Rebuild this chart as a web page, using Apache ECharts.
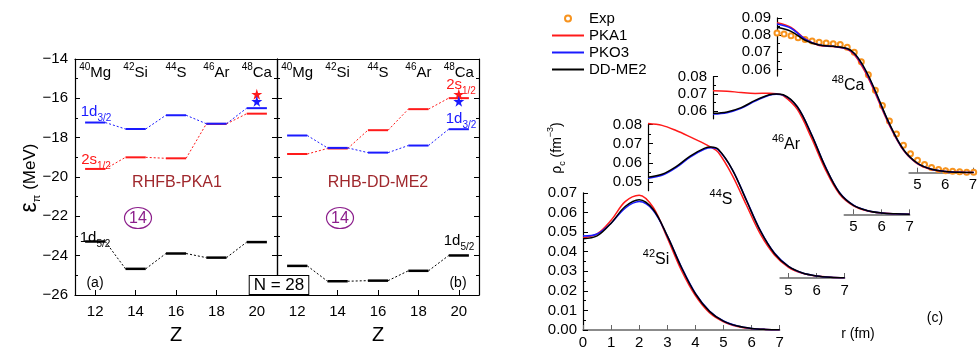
<!DOCTYPE html>
<html><head><meta charset="utf-8">
<script src="https://cdn.jsdelivr.net/npm/echarts@6/dist/echarts.min.js"></script>
<style>html,body{margin:0;padding:0;background:#fff}#c{width:980px;height:350px}</style>
</head><body><div id="c"></div>
<script>
// ---------------- data: panels (a) and (b) ----------------
const Z = [12, 14, 16, 18, 20];
const massNumbers = [40, 42, 44, 46, 48];
const elements = ['Mg', 'Si', 'S', 'Ar', 'Ca'];
const pka1_d32 = [-17.23, -17.56, -16.86, -17.29, -16.50];
const pka1_s12 = [-19.59, -19.00, -19.05, -17.30, -16.78];
const pka1_d52 = [-23.28, -24.67, -23.89, -24.10, -23.31];
const ddme2_d32 = [-17.89, -18.52, -18.76, -18.40, -17.57];
const ddme2_s12 = [-18.83, -18.55, -17.62, -16.55, -15.99];
const ddme2_d52 = [-24.52, -25.30, -25.27, -24.77, -23.99];
const expCa48_s12 = [20, -15.79];
const expCa48_d32 = [20, -16.15];

// ---------------- data: panel (c) charge densities ----------------
const r42Si = [0, 0.5, 1, 1.5, 2, 2.5, 3, 3.5, 4, 4.5, 5, 5.5, 6, 6.5, 7];
const si42_pka1 = [0.0470, 0.0490, 0.0560, 0.0655, 0.0688, 0.0625, 0.0470, 0.0305, 0.0175, 0.0088, 0.0042, 0.0018, 0.0007, 0.0003, 0.0001];
const si42_pko3 = [0.0480, 0.0490, 0.0545, 0.0622, 0.0655, 0.0610, 0.0480, 0.0322, 0.0187, 0.0097, 0.0046, 0.0020, 0.0008, 0.0003, 0.0001];
const si42_ddme2 = [0.0465, 0.0480, 0.0545, 0.0630, 0.0665, 0.0615, 0.0480, 0.0320, 0.0185, 0.0095, 0.0045, 0.0020, 0.0008, 0.0003, 0.0001];

const r44S = [0, 0.5, 1, 1.5, 2, 2.25, 2.5, 3, 3.5, 4, 4.5, 5, 5.5, 6, 6.5, 7];
const s44_pka1 = [0.0805, 0.0795, 0.0768, 0.0735, 0.0700, 0.0680, 0.0655, 0.0535, 0.0380, 0.0228, 0.0120, 0.0056, 0.0024, 0.0010, 0.0004, 0.0001];
const s44_pko3 = [0.0520, 0.0535, 0.0575, 0.0630, 0.0670, 0.0678, 0.0668, 0.0565, 0.0407, 0.0247, 0.0130, 0.0061, 0.0026, 0.0011, 0.0004, 0.0001];
const s44_ddme2 = [0.0525, 0.0540, 0.0580, 0.0635, 0.0675, 0.0682, 0.0670, 0.0565, 0.0405, 0.0245, 0.0128, 0.0060, 0.0026, 0.0011, 0.0004, 0.0001];

const r46Ar = [0, 0.5, 1, 1.5, 2, 2.25, 2.5, 3, 3.5, 4, 4.5, 5, 5.5, 6, 6.5, 7];
const ar46_pka1 = [0.0719, 0.0716, 0.0708, 0.0703, 0.0704, 0.0701, 0.0690, 0.0610, 0.0445, 0.0260, 0.0118, 0.0049, 0.0019, 0.0007, 0.0003, 0.0001];
const ar46_pko3 = [0.0583, 0.0591, 0.0616, 0.0658, 0.0692, 0.0698, 0.0693, 0.0625, 0.0467, 0.0277, 0.0127, 0.0053, 0.0021, 0.0008, 0.0003, 0.0001];
const ar46_ddme2 = [0.0587, 0.0595, 0.0620, 0.0662, 0.0695, 0.0700, 0.0695, 0.0625, 0.0465, 0.0275, 0.0125, 0.0052, 0.0021, 0.0008, 0.0003, 0.0001];

const r48Ca = [0, 0.5, 1, 1.5, 2, 2.5, 2.75, 3, 3.25, 3.5, 4, 4.5, 5, 5.5, 6, 6.5, 7];
const ca48_pka1 = [0.0872, 0.0845, 0.0778, 0.0740, 0.0733, 0.0718, 0.0685, 0.0625, 0.0550, 0.0460, 0.0275, 0.0130, 0.0052, 0.0019, 0.0007, 0.0002, 0.0001];
const ca48_pko3 = [0.0865, 0.0840, 0.0776, 0.0742, 0.0735, 0.0720, 0.0692, 0.0635, 0.0560, 0.0470, 0.0282, 0.0133, 0.0054, 0.0020, 0.0007, 0.0002, 0.0001];
const ca48_ddme2 = [0.0845, 0.0822, 0.0770, 0.0742, 0.0735, 0.0722, 0.0695, 0.0640, 0.0565, 0.0475, 0.0285, 0.0135, 0.0055, 0.0020, 0.0007, 0.0002, 0.0001];
const rExp = [0, 0.25, 0.5, 0.75, 1, 1.25, 1.5, 1.75, 2, 2.25, 2.5, 2.75, 3, 3.25, 3.5, 3.75, 4, 4.25, 4.5, 4.75, 5, 5.25, 5.5, 5.75, 6, 6.25, 6.5, 6.75, 7];
const ca48_exp = [0.0812, 0.0806, 0.0796, 0.0785, 0.0774, 0.0765, 0.0758, 0.0754, 0.0750, 0.0745, 0.0730, 0.0700, 0.0645, 0.0570, 0.0480, 0.0390, 0.0300, 0.0225, 0.0160, 0.0110, 0.0072, 0.0047, 0.0030, 0.0019, 0.0012, 0.0008, 0.0005, 0.0003, 0.0002];

const rInsetTicks = [5, 6, 7];

// ---------------- styling ----------------
const F = '"Liberation Sans", Arial, Helvetica, sans-serif';
const RED = '#ff1a1a', BLUE = '#1a1aff', BLACK = '#000000', ORANGE = '#f7931e';
const grids = [], xAxes = [], yAxes = [], series = [];
const minus = v => String(v).replace('-', '\u2212');

function richSet(size, color) {
  return {
    m: { fontSize: size, fontFamily: F, color: color, lineHeight: size + 7 },
    s: { fontSize: Math.round(size * 0.66), fontFamily: F, color: color, verticalAlign: 'top', lineHeight: 10 },
    b: { fontSize: Math.round(size * 0.66), fontFamily: F, color: color, verticalAlign: 'bottom', lineHeight: 10 }
  };
}

// panel grids (a) and (b)
function addPanel(left, showYLabels) {
  const gi = grids.length;
  grids.push({ left: left, top: 59, width: 202, height: 241, containLabel: false });
  const line = { lineStyle: { color: '#000', width: 1.2 } };
  xAxes.push({ type: 'value', gridIndex: gi, position: 'bottom', min: 11, max: 21,
    axisLine: line, splitLine: { show: false },
    axisTick: { inside: true, length: 5, customValues: Z, lineStyle: { color: '#000' } },
    axisLabel: { customValues: Z, fontSize: 15, fontFamily: F, color: '#000', margin: 9 },
    name: 'Z', nameLocation: 'middle', nameGap: 30, nameTextStyle: { fontSize: 20, fontFamily: F, color: '#000' } });
  xAxes.push({ type: 'value', gridIndex: gi, position: 'top', min: 11, max: 21,
    axisLine: line, splitLine: { show: false }, axisTick: { show: false },
    axisLabel: { inside: true, customValues: Z, margin: 3,
      formatter: v => { const i = Z.indexOf(v); return '{s|' + massNumbers[i] + '}{m|' + elements[i] + '}'; },
      rich: richSet(15, '#000') } });
  const yBase = { type: 'value', gridIndex: gi, min: -26, max: -14, interval: 2, axisLine: line,
    splitLine: { show: false },
    axisTick: { inside: true, length: 5, lineStyle: { color: '#000' } },
    minorTick: { show: true, splitNumber: 2, length: 3, lineStyle: { color: '#000' } } };
  yAxes.push(Object.assign({}, yBase, { position: 'left',
    axisLabel: { show: showYLabels, fontSize: 15, fontFamily: F, color: '#000', margin: 7, formatter: minus } }));
  yAxes.push(Object.assign({}, yBase, { position: 'right', axisLabel: { show: false } }));
  return { x: xAxes.length - 2, y: yAxes.length - 2 };
}
const pa = addPanel(75, true);
const pb = addPanel(277, false);

function segRender(width) {
  return function (params, api) {
    const z = api.value(0), e = api.value(1);
    const p1 = api.coord([z - 0.5, e]), p2 = api.coord([z + 0.5, e]);
    return { type: 'line', shape: { x1: p1[0], y1: p1[1], x2: p2[0], y2: p2[1] },
      style: { stroke: api.visual('color'), lineWidth: width } };
  };
}
function connRender(params, api) {
  const p1 = api.coord([api.value(0) + 0.5, api.value(1)]);
  const p2 = api.coord([api.value(2) - 0.5, api.value(3)]);
  return { type: 'line', shape: { x1: p1[0], y1: p1[1], x2: p2[0], y2: p2[1] },
    style: { stroke: api.visual('color'), lineWidth: 1, lineDash: [2, 2] } };
}
function addLevel(ax, energies, color, width) {
  series.push({ type: 'custom', xAxisIndex: ax.x, yAxisIndex: ax.y, renderItem: segRender(width),
    itemStyle: { color: color }, data: Z.map((z, i) => [z, energies[i]]), silent: true });
  const conn = [];
  for (let i = 0; i < Z.length - 1; i++) conn.push([Z[i], energies[i], Z[i + 1], energies[i + 1]]);
  series.push({ type: 'custom', xAxisIndex: ax.x, yAxisIndex: ax.y, renderItem: connRender,
    itemStyle: { color: color }, data: conn, encode: { x: [0, 2], y: [1, 3] }, silent: true });
}
addLevel(pa, pka1_d52, BLACK, 2.5);
addLevel(pa, pka1_s12, RED, 2);
addLevel(pa, pka1_d32, BLUE, 2);
addLevel(pb, ddme2_d52, BLACK, 2.5);
addLevel(pb, ddme2_s12, RED, 2);
addLevel(pb, ddme2_d32, BLUE, 2);
const STAR = 'path://M50,0 L61,35 L98,35 L68,57 L79,91 L50,70 L21,91 L32,57 L2,35 L39,35 Z';
[pa, pb].forEach(ax => {
  series.push({ type: 'scatter', xAxisIndex: ax.x, yAxisIndex: ax.y, symbol: STAR, symbolSize: 11,
    itemStyle: { color: RED, opacity: 1 }, data: [expCa48_s12], silent: true, z: 5 });
  series.push({ type: 'scatter', xAxisIndex: ax.x, yAxisIndex: ax.y, symbol: STAR, symbolSize: 11,
    itemStyle: { color: BLUE, opacity: 1 }, data: [expCa48_d32], silent: true, z: 5 });
});

// ---------------- panel (c) insets ----------------
const SX = 28.1; // px per fm
const hidden = (min, max) => ({ type: 'value', show: false, min: min, max: max, splitLine: { show: false } });
function addGrid(g, xa, ya) {
  const gi = grids.length;
  grids.push(Object.assign({ containLabel: false }, g));
  xa.gridIndex = gi; ya.gridIndex = gi;
  xAxes.push(xa); yAxes.push(ya);
  return { x: xAxes.length - 1, y: yAxes.length - 1, g: gi };
}
const fmt2 = v => v.toFixed(2);
const yLine = { lineStyle: { color: '#000', width: 1.2 } };
const xLine = { lineStyle: { color: '#666', width: 1.5 } };

// 42Si : full axes
const g42 = addGrid({ left: 583, top: 192.8, width: 7 * SX, height: 137.2 },
  { type: 'value', min: 0, max: 7, interval: 1, axisLine: xLine, splitLine: { show: false },
    axisTick: { inside: true, length: 5, lineStyle: { color: '#666' } },
    axisLabel: { fontSize: 15, fontFamily: F, color: '#000', margin: 5 } },
  { type: 'value', min: 0, max: 0.07, interval: 0.01, axisLine: yLine, splitLine: { show: false },
    axisTick: { inside: true, length: 5, lineStyle: { color: '#000' } },
    minorTick: { show: true, splitNumber: 2, length: 3, lineStyle: { color: '#000' } },
    axisLabel: { fontSize: 15, fontFamily: F, color: '#000', margin: 6, formatter: fmt2 } });

function addInset(x0, y0, sy, yMin, yTop, yMajors, yMinors, xMin) {
  const d = addGrid({ left: x0, top: y0 - 0.09 * sy, width: 7 * SX, height: 0.09 * sy }, hidden(0, 7), hidden(0, 0.09));
  const yd = addGrid({ left: x0, top: y0 - yTop * sy, width: 20, height: (yTop - yMin) * sy }, hidden(0, 1),
    { type: 'value', min: yMin, max: yTop, axisLine: yLine, splitLine: { show: false },
      axisTick: { inside: true, length: 5, customValues: yMajors, lineStyle: { color: '#000' } },
      axisLabel: { customValues: yMajors, fontSize: 15, fontFamily: F, color: '#000', margin: 6, formatter: fmt2 } });
  yAxes.push({ type: 'value', gridIndex: yd.g, min: yMin, max: yTop, position: 'left', axisLine: { show: false },
    splitLine: { show: false }, axisLabel: { show: false },
    axisTick: { inside: true, length: 3, customValues: yMinors, lineStyle: { color: '#000' } } });
  addGrid({ left: x0 + xMin * SX, top: y0 - 1, width: (7 - xMin) * SX, height: 1 },
    { type: 'value', min: xMin, max: 7, axisLine: xLine, splitLine: { show: false },
      axisTick: { inside: true, length: 5, customValues: rInsetTicks, lineStyle: { color: '#666' } },
      axisLabel: { customValues: rInsetTicks, fontSize: 15, fontFamily: F, color: '#000', margin: 5 } },
    hidden(0, 1));
  return d;
}
const g44 = addInset(648, 278, 1920, 0.0455, 0.08, [0.05, 0.06, 0.07, 0.08], [0.055, 0.065, 0.075], 4.7);
const g46 = addInset(713, 214.3, 1720, 0.0555, 0.08, [0.06, 0.07, 0.08], [0.065, 0.075], 4.67);
const g48 = addInset(777, 172.7, 1720, 0.0562, 0.09, [0.06, 0.07, 0.08, 0.09], [0.065, 0.075, 0.085], 4.7);

function curve(ax, name, r, vals, color) {
  series.push({ type: 'line', name: name, xAxisIndex: ax.x, yAxisIndex: ax.y, smooth: 0.35,
    symbol: 'none', showSymbol: false, lineStyle: { color: color, width: 1.5 }, itemStyle: { color: color },
    data: r.map((x, i) => [x, vals[i]]), silent: true });
}
[[g42, r42Si, si42_pka1, si42_pko3, si42_ddme2],
 [g44, r44S, s44_pka1, s44_pko3, s44_ddme2],
 [g46, r46Ar, ar46_pka1, ar46_pko3, ar46_ddme2],
 [g48, r48Ca, ca48_pka1, ca48_pko3, ca48_ddme2]].forEach(([ax, r, a, b, c]) => {
  curve(ax, 'PKA1', r, a, RED);
  curve(ax, 'PKO3', r, b, BLUE);
  curve(ax, 'DD-ME2', r, c, BLACK);
});
series.push({ type: 'scatter', name: 'Exp', xAxisIndex: g48.x, yAxisIndex: g48.y, symbol: 'emptyCircle',
  symbolSize: 5, itemStyle: { color: ORANGE, borderColor: ORANGE, borderWidth: 1, opacity: 1 },
  data: rExp.map((x, i) => [x, ca48_exp[i]]), z: 1, silent: true });

// ---------------- annotations ----------------
function txt(x, y, text, size, color, extra) {
  return Object.assign({ type: 'text', x: x, y: y, silent: true,
    style: { text: text, fontSize: size, fontFamily: F, fill: color, align: 'center', verticalAlign: 'middle',
      rich: richSet(size, color) } }, extra || {});
}
const DARKRED = '#a0282d', PURPLE = '#8c1f8c';
function ring(x, y) {
  return [{ type: 'ellipse', silent: true, shape: { cx: x, cy: y, rx: 13.5, ry: 10.5 },
    style: { fill: 'none', stroke: PURPLE, lineWidth: 1.2 } },
    txt(x, y + 0.5, '14', 16, PURPLE)];
}
const graphics = [
  txt(96, 112, '{m|1d}{b|3/2}', 15, BLUE),
  txt(96, 160, '{m|2s}{b|1/2}', 15, RED),
  txt(95, 238, '{m|1d}{b|5/2}', 15, '#000'),
  txt(177, 183, 'RHFB-PKA1', 16, DARKRED),
  txt(95, 283, '(a)', 14, '#000'),
  txt(461, 85, '{m|2s}{b|1/2}', 15, RED),
  txt(461, 119, '{m|1d}{b|3/2}', 15, BLUE),
  txt(459, 241, '{m|1d}{b|5/2}', 15, '#000'),
  txt(378, 183, 'RHB-DD-ME2', 16, DARKRED),
  txt(458, 283, '(b)', 14, '#000'),
  { type: 'text', x: 279, y: 285, silent: true, z: 10,
    style: { text: 'N = 28', fontSize: 17, fontFamily: F, fill: '#000', align: 'center', verticalAlign: 'middle',
      backgroundColor: '#fff', borderColor: '#000', borderWidth: 1, padding: [1, 4, 0, 4] } },
  txt(30, 178, '{e|\u03b5}{b|\u03c0}{m| (MeV)}', 17, '#000', { rotation: Math.PI / 2 }),
  txt(557, 148, '{m|\u03c1}{b|c}{m| (fm}{s|\u22123}{m|)}', 14, '#000', { rotation: Math.PI / 2 }),
  txt(858, 334, 'r (fm)', 14, '#000'),
  txt(935, 318, '(c)', 14, '#000'),
  txt(848, 86, '{s|48}{m|Ca}', 16, '#000'),
  txt(786, 145, '{s|46}{m|Ar}', 16, '#000'),
  txt(721, 200, '{s|44}{m|S}', 16, '#000'),
  txt(656, 260, '{s|42}{m|Si}', 16, '#000')
].concat(ring(138, 218), ring(340, 218));
graphics.forEach(g => { if (g.style && g.style.rich) g.style.rich.e = { fontSize: 23, fontFamily: F, color: '#000', lineHeight: 24 }; });

const hideSym = { color: 'rgba(0,0,0,0)', borderColor: 'rgba(0,0,0,0)', borderWidth: 0, opacity: 0 };
const chart = echarts.init(document.getElementById('c'), null, { renderer: 'canvas' });
chart.setOption({
  animation: false,
  backgroundColor: '#fff',
  textStyle: { fontFamily: F },
  legend: { data: [
      { name: 'Exp' },
      { name: 'PKA1', itemStyle: hideSym },
      { name: 'PKO3', itemStyle: hideSym },
      { name: 'DD-ME2', itemStyle: hideSym }],
    orient: 'vertical', left: 546, top: 6,
    itemWidth: 32, itemHeight: 6, itemGap: 2, selectedMode: false,
    textStyle: { fontSize: 15, fontFamily: F, color: '#000', lineHeight: 15 } },
  grid: grids, xAxis: xAxes, yAxis: yAxes, series: series, graphic: graphics
});
</script></body></html>
